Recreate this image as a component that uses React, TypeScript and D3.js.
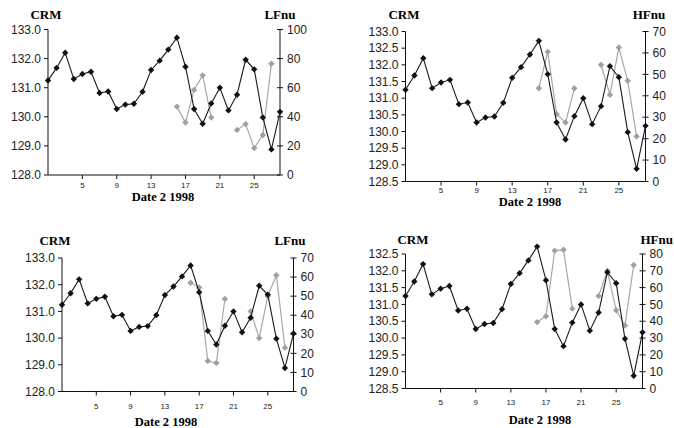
import React from 'react';
import * as d3 from 'd3';

// Day of month (February 1998)
const days = [1, 2, 3, 4, 5, 6, 7, 8, 9, 10, 11, 12, 13, 14, 15, 16, 17, 18, 19, 20, 21, 22, 23, 24, 25, 26, 27, 28];
const dayTicks = [5, 9, 13, 17, 21, 25];

// CRM, same in all four panels
const crm = [131.25, 131.68, 132.2, 131.3, 131.47, 131.55, 130.82, 130.87, 130.27, 130.42, 130.45, 130.86, 131.61, 131.93,
  132.31, 132.72, 131.72, 130.27, 129.76, 130.46, 131.0, 130.22, 130.76, 131.96, 131.63, 129.98, 128.88, 130.17];

const _ = null;
const lfnuTop = [_, _, _, _, _, _, _, _, _, _, _, _, _, _, _, 47, 36, 58.5, 68.5, 39.5, _, _, 31, 35, 18.5, 27.5, 76.5, _];
const hfnuTop = [_, _, _, _, _, _, _, _, _, _, _, _, _, _, _, 43.5, 60.5, 31.5, 27.5, 43.5, _, _, 54.5, 40.5, 62.5, 47, 21, _];
const lfnuBottom = [_, _, _, _, _, _, _, _, _, _, _, _, _, _, _, 57, 54.5, 16, 15, 48.5, _, _, 42, 28, 50, 61, 23, _];
const hfnuBottom = [_, _, _, _, _, _, _, _, _, _, _, _, _, _, _, 39.5, 43, 82, 82.5, 47.5, _, _, 55, 70, 46.5, 37.5, 73.5, _];

const panels = [
  { x0: 48, x1: 280, y0: 29.5, y1: 175, left: [128, 133], leftStep: 1, right: [0, 100], rightStep: 20,
    rightName: 'LFnu', values: lfnuTop, crmX: 46, nameX: 280, nameAnchor: 'middle', labelY: 19, tickY: 188, dateX: 163, dateY: 201 },
  { x0: 405.5, x1: 645.5, y0: 31.5, y1: 181.5, left: [128.5, 133], leftStep: 0.5, right: [0, 70], rightStep: 10,
    rightName: 'HFnu', values: hfnuTop, crmX: 404, nameX: 649, nameAnchor: 'middle', labelY: 19, tickY: 192.5, dateX: 530, dateY: 205.5 },
  { x0: 62, x1: 293.5, y0: 258, y1: 391.5, left: [128, 133], leftStep: 1, right: [0, 70], rightStep: 10,
    rightName: 'LFnu', values: lfnuBottom, crmX: 55, nameX: 290, nameAnchor: 'middle', labelY: 245, tickY: 409, dateX: 166, dateY: 426 },
  { x0: 405.5, x1: 642.5, y0: 254, y1: 388.5, left: [128.5, 132.5], leftStep: 0.5, right: [0, 80], rightStep: 10,
    rightName: 'HFnu', values: hfnuBottom, crmX: 413, nameX: 673, nameAnchor: 'end', labelY: 244, tickY: 405, dateX: 540, dateY: 424 },
];

const diamond = 'M0,-3.2L3.2,0L0,3.2L-3.2,0Z';

function Panel({ p }) {
  const x = d3.scaleLinear().domain([1, 28]).range([p.x0, p.x1]);
  const yl = d3.scaleLinear().domain(p.left).range([p.y1, p.y0]);
  const yr = d3.scaleLinear().domain(p.right).range([p.y1, p.y0]);
  const leftTicks = d3.range(p.left[0], p.left[1] + 1e-6, p.leftStep);
  const rightTicks = d3.range(p.right[0], p.right[1] + 1e-6, p.rightStep);

  const crmLine = d3.line<number>().x((_, i) => x(days[i])).y((d) => yl(d));
  const grayLine = d3.line<number | null>()
    .defined((d) => d != null)
    .x((_, i) => x(days[i]))
    .y((d) => yr(d as number));

  return (
    <g>
      <text x={p.crmX} y={p.labelY} textAnchor="middle" fontFamily="Liberation Serif" fontWeight="bold" fontSize={13}>CRM</text>
      <text x={p.nameX} y={p.labelY} textAnchor={p.nameAnchor} fontFamily="Liberation Serif" fontWeight="bold" fontSize={13}>{p.rightName}</text>

      {/* left axis */}
      <line x1={p.x0} x2={p.x0} y1={p.y0} y2={p.y1} stroke="#111" />
      {leftTicks.map((t) => (
        <g key={'l' + t}>
          <line x1={p.x0 - 4} x2={p.x0} y1={yl(t)} y2={yl(t)} stroke="#111" />
          <text x={p.x0 - 7} y={yl(t)} dy="0.35em" textAnchor="end" fontFamily="Liberation Sans" fontSize={12} fill="#222">{t.toFixed(1)}</text>
        </g>
      ))}

      {/* right axis */}
      <line x1={p.x1} x2={p.x1} y1={p.y0} y2={p.y1} stroke="#111" />
      {rightTicks.map((t) => (
        <g key={'r' + t}>
          <line x1={p.x1 - 3} x2={p.x1 + 3} y1={yr(t)} y2={yr(t)} stroke="#111" />
          <text x={p.x1 + 7} y={yr(t)} dy="0.35em" fontFamily="Liberation Sans" fontSize={12} fill="#222">{t}</text>
        </g>
      ))}

      {/* x axis */}
      <line x1={p.x0} x2={p.x1} y1={p.y1} y2={p.y1} stroke="#111" />
      {dayTicks.map((t) => (
        <g key={'x' + t}>
          <line x1={x(t)} x2={x(t)} y1={p.y1} y2={p.y1 + 4} stroke="#111" />
          <text x={x(t)} y={p.tickY} textAnchor="middle" fontFamily="Liberation Sans" fontSize={8} fill="#222">{t}</text>
        </g>
      ))}
      <text x={p.dateX} y={p.dateY} textAnchor="middle" fontFamily="Liberation Serif" fontWeight="bold" fontSize={12.5}>Date 2 1998</text>

      {/* gray series */}
      <path d={grayLine(p.values) || ''} fill="none" stroke="#a8a8a8" strokeWidth={1.2} />
      {p.values.map((v, i) => v == null ? null : (
        <path key={'g' + i} d={diamond} transform={`translate(${x(days[i])},${yr(v)})`} fill="#a0a0a0" />
      ))}

      {/* CRM series */}
      <path d={crmLine(crm) || ''} fill="none" stroke="#1a1a1a" strokeWidth={1.1} />
      {crm.map((v, i) => (
        <path key={'c' + i} d={diamond} transform={`translate(${x(days[i])},${yl(v)})`} fill="#111" />
      ))}
    </g>
  );
}

export default function App() {
  return (
    <svg width={674} height={428} style={{ position: 'absolute', left: 0, top: 0, background: '#fff' }}>
      {panels.map((p, i) => <Panel key={i} p={p} />)}
    </svg>
  );
}
